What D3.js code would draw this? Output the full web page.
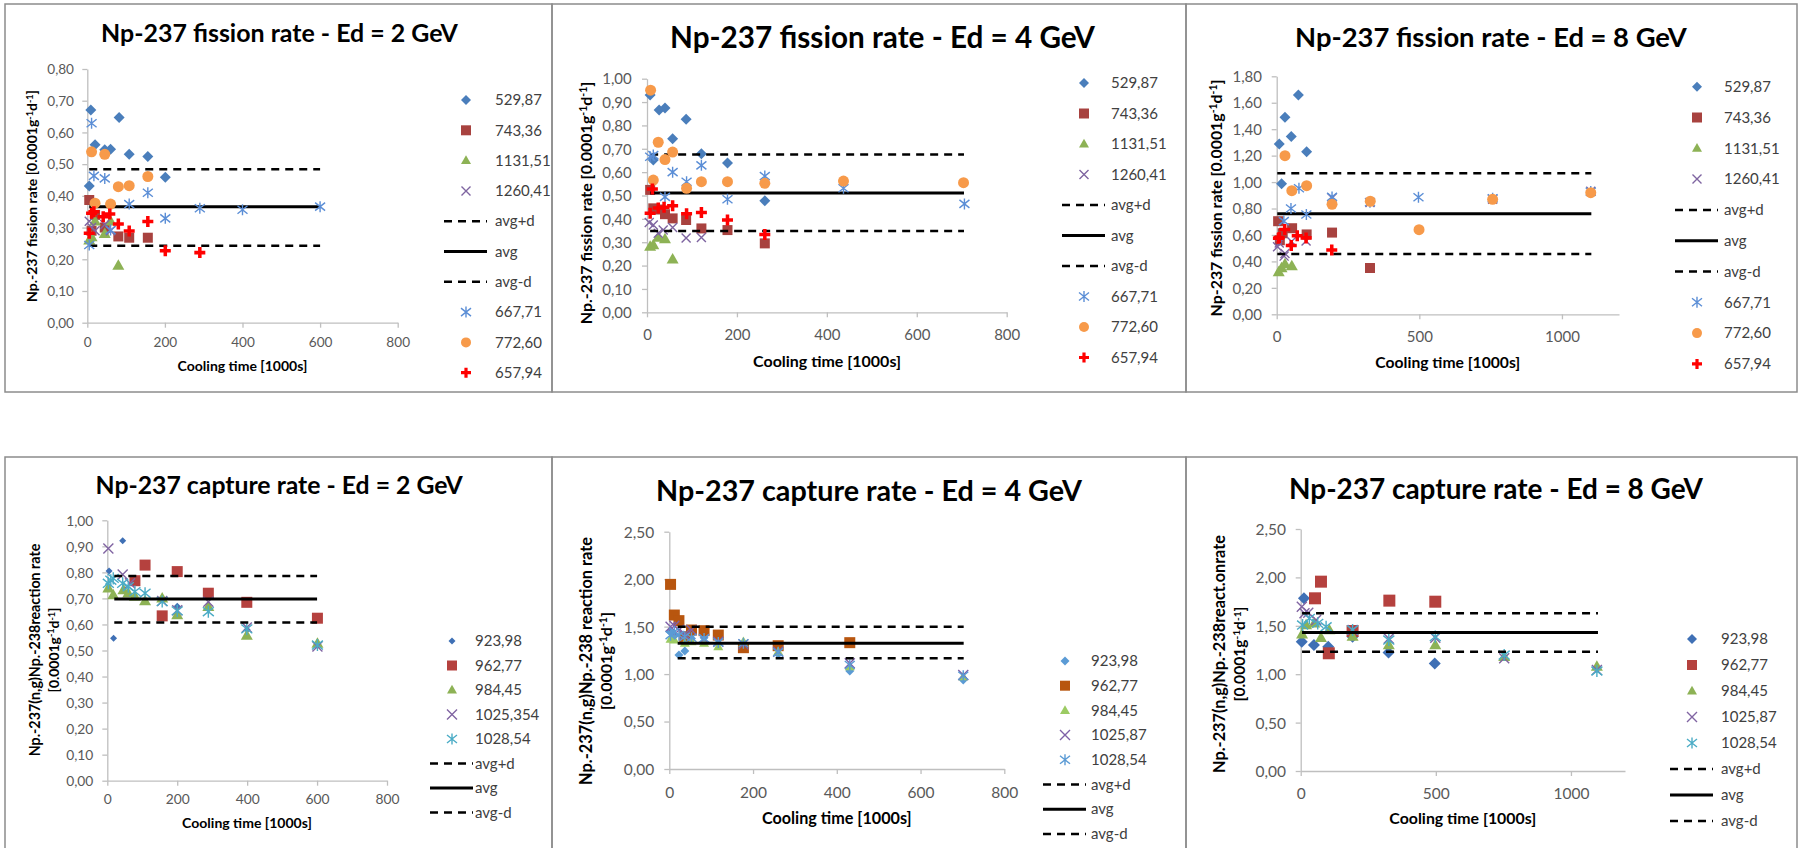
<!DOCTYPE html>
<html><head><meta charset="utf-8">
<script src="https://cdn.jsdelivr.net/npm/d3@7"></script>
<style>
body{margin:0;background:#fff;}
svg{display:block;}
text{font-family:Lato,"Open Sans",sans-serif;}
</style>
</head><body>
<svg id="c" width="1805" height="848"></svg>
<script>
// ================= DATA =================
// tick values
const ticksX800 = [0, 200, 400, 600, 800];
const ticksX1200 = [0, 500, 1000];
const ticksYf2 = [0, 0.1, 0.2, 0.3, 0.4, 0.5, 0.6, 0.7, 0.8];
const ticksYf4 = [0, 0.1, 0.2, 0.3, 0.4, 0.5, 0.6, 0.7, 0.8, 0.9, 1.0];
const ticksYf8 = [0, 0.2, 0.4, 0.6, 0.8, 1.0, 1.2, 1.4, 1.6, 1.8];
const ticksYc2 = [0, 0.1, 0.2, 0.3, 0.4, 0.5, 0.6, 0.7, 0.8, 0.9, 1.0];
const ticksYc48 = [0, 0.5, 1.0, 1.5, 2.0, 2.5];

// ---- Np-237 fission rate, Ed = 2 GeV  [cooling time (1000s), rate] ----
const f2_529_87 = [[5,0.431],[9,0.671],[20,0.561],[45,0.545],[60,0.547],[82,0.647],[108,0.531],[156,0.524],[201,0.459]];
const f2_743_36 = [[5,0.387],[11,0.29],[20,0.34],[45,0.30],[80,0.272],[108,0.268],[156,0.268]];
const f2_1131_51 = [[5,0.26],[11,0.27],[20,0.32],[45,0.28],[60,0.32],[80,0.18]];
const f2_1260_41 = [[5,0.32],[11,0.30],[20,0.29],[45,0.31],[60,0.29]];
const f2_667_71 = [[5,0.245],[11,0.629],[17,0.463],[45,0.455],[60,0.292],[108,0.374],[156,0.41],[201,0.329],[290,0.361],[400,0.356],[600,0.366]];
const f2_772_60 = [[11,0.539],[20,0.377],[45,0.531],[60,0.374],[80,0.429],[108,0.432],[156,0.461]];
const f2_657_94 = [[5,0.282],[11,0.345],[17,0.35],[41,0.334],[58,0.343],[80,0.311],[108,0.289],[156,0.319],[201,0.227],[290,0.221]];
const f2_avgX = [5, 600];
const f2_avg = {plus: 0.484, avg: 0.366, minus: 0.243};

// ---- Np-237 fission rate, Ed = 4 GeV ----
const f4_529_87 = [[7,0.93],[14,0.652],[27,0.866],[40,0.875],[57,0.743],[87,0.826],[121,0.679],[179,0.639],[262,0.477]];
const f4_743_36 = [[7,0.524],[14,0.445],[27,0.44],[40,0.42],[57,0.402],[87,0.395],[121,0.359],[179,0.352],[262,0.295]];
const f4_1131_51 = [[7,0.281],[14,0.288],[25,0.32],[40,0.314],[57,0.227]];
const f4_1260_41 = [[5,0.384],[14,0.374],[25,0.338],[36,0.352],[57,0.363],[87,0.318],[121,0.32]];
const f4_667_71 = [[7,0.666],[14,0.673],[40,0.494],[57,0.600],[88,0.559],[121,0.629],[179,0.484],[262,0.583],[437,0.531],[706,0.464]];
const f4_772_60 = [[8,0.951],[14,0.566],[25,0.728],[40,0.654],[57,0.686],[88,0.531],[121,0.559],[179,0.559],[262,0.552],[437,0.562],[704,0.555]];
const f4_657_94 = [[7,0.424],[12,0.528],[25,0.446],[38,0.45],[57,0.456],[88,0.422],[121,0.427],[179,0.395],[262,0.333]];
const f4_avgX = [7, 705];
const f4_avg = {plus: 0.676, avg: 0.511, minus: 0.348};

// ---- Np-237 fission rate, Ed = 8 GeV ----
const f8_529_87 = [[9,1.288],[17,0.988],[29,1.49],[51,1.344],[76,1.659],[105,1.23]];
const f8_743_36 = [[5,0.704],[11,0.56],[21,0.613],[54,0.651],[105,0.604],[194,0.618],[327,0.35]];
const f8_1131_51 = [[7,0.32],[17,0.35],[29,0.38],[53,0.365]];
const f8_1260_41 = [[3,0.51],[9,0.54],[26,0.44],[29,0.46],[52,0.55],[103,0.555],[194,0.88],[327,0.845],[757,0.87],[1101,0.93]];
const f8_667_71 = [[25,0.705],[50,0.8],[78,0.953],[104,0.755],[194,0.888],[327,0.848],[497,0.885],[757,0.877],[1101,0.928]];
const f8_772_60 = [[29,1.2],[53,0.935],[105,0.973],[194,0.832],[328,0.855],[499,0.64],[757,0.87],[1101,0.92]];
const f8_657_94 = [[6,0.576],[9,0.58],[28,0.641],[51,0.52],[72,0.594],[103,0.578],[193,0.487]];
const f8_avgX = [2, 1103];
const f8_avg = {plus: 1.066, avg: 0.761, minus: 0.456};

// ---- Np-237 capture rate, Ed = 2 GeV ----
const c2_923_98 = [[5,0.805],[18,0.547],[44,0.921],[200,0.67],[290,0.66],[400,0.58],[600,0.52]];
const c2_962_77 = [[79,0.768],[108,0.828],[157,0.633],[200,0.803],[289,0.72],[399,0.685],[601,0.624]];
const c2_984_45 = [[3,0.739],[17,0.713],[46,0.732],[60,0.72],[79,0.707],[108,0.69],[157,0.70],[200,0.636],[289,0.668],[399,0.557],[601,0.527]];
const c2_1025_354 = [[3,0.892],[44,0.792],[65,0.758],[157,0.69],[200,0.655],[289,0.687],[399,0.588],[601,0.515]];
const c2_1028_54 = [[3,0.758],[10,0.77],[17,0.777],[44,0.758],[60,0.745],[79,0.726],[108,0.72],[157,0.688],[200,0.652],[289,0.649],[399,0.583],[601,0.521]];
const c2_avgX = [20, 600];
const c2_avg = {plus: 0.786, avg: 0.698, minus: 0.608};

// ---- Np-237 capture rate, Ed = 4 GeV ----
const c4_923_98 = [[2,1.447],[12,1.41],[23,1.2],[37,1.243],[53,1.376],[83,1.383],[117,1.324],[177,1.331],[260,1.208],[431,1.032],[702,0.938]];
const c4_962_77 = [[3,1.945],[12,1.622],[23,1.563],[37,1.394],[53,1.464],[83,1.457],[117,1.411],[177,1.278],[260,1.299],[431,1.331]];
const c4_984_45 = [[3,1.366],[12,1.359],[37,1.324],[53,1.341],[83,1.324],[117,1.289],[177,1.341],[260,1.236],[431,1.078],[702,0.973]];
const c4_1025_87 = [[3,1.499],[12,1.51],[23,1.464],[37,1.42],[53,1.464],[83,1.369],[117,1.341],[177,1.313],[260,1.236],[431,1.113],[702,0.99]];
const c4_1028_54 = [[3,1.41],[12,1.447],[23,1.41],[37,1.394],[53,1.383],[83,1.376],[117,1.334],[177,1.324],[260,1.229],[431,1.096],[702,0.983]];
const c4_avgX = [20, 703];
const c4_avg = {plus: 1.499, avg: 1.324, minus: 1.166};

// ---- Np-237 capture rate, Ed = 8 GeV ----
const c8_923_98 = [[4,1.336],[12,1.784],[49,1.302],[102,1.284],[192,1.388],[325,1.225],[496,1.11]];
const c8_962_77 = [[53,1.784],[75,1.956],[104,1.216],[192,1.446],[328,1.76],[498,1.749]];
const c8_984_45 = [[5,1.412],[20,1.508],[50,1.525],[75,1.377],[106,1.456],[192,1.388],[326,1.302],[498,1.302],[753,1.181],[1096,1.078]];
const c8_1025_87 = [[4,1.697],[14,1.629],[28,1.635],[57,1.56],[192,1.457],[326,1.37],[498,1.377],[753,1.164],[1096,1.043]];
const c8_1028_54 = [[7,1.508],[32,1.577],[63,1.525],[94,1.49],[192,1.457],[326,1.353],[498,1.388],[753,1.198],[1096,1.033]];
const c8_avgX = [5, 1100];
const c8_avg = {plus: 1.629, avg: 1.432, minus: 1.233};

// ================= STYLES =================
const stF = {
  d: {shape:"diamond", color:"#4A7EBB", r:5.5},
  s: {shape:"square", color:"#A8423F", r:5},
  t: {shape:"triangle", color:"#8DB255", r:6},
  x: {shape:"x", color:"#7E64A0", r:4.5},
  a: {shape:"asterisk", color:"#5B8ED6", r:5},
  c: {shape:"circle", color:"#F79A4A", r:5.5},
  p: {shape:"plus", color:"#FF0000", r:5.5}
};
const stC = {
  d: {shape:"diamond", color:"#3F70B5", r:3.5},
  s: {shape:"square", color:"#B5413E", r:5.5},
  t: {shape:"triangle", color:"#8DB255", r:6},
  x: {shape:"x", color:"#8064A2", r:5},
  a: {shape:"asterisk", color:"#4BACC6", r:5.5}
};
const stC4 = {
  d: {shape:"diamond", color:"#5B9BD5", r:4.5},
  s: {shape:"square", color:"#B8560F", r:5.5},
  t: {shape:"triangle", color:"#9CCB63", r:5},
  x: {shape:"x", color:"#7E60A8", r:5},
  a: {shape:"asterisk", color:"#5B9BD5", r:5}
};
const stC8 = Object.assign({}, stC, {d: {shape:"diamond", color:"#3F70B5", r:6}, s:{shape:"square", color:"#B5413E", r:6}});

function supParts(main){ return [{t:main},{t:"-1",sup:true},{t:"d"},{t:"-1",sup:true},{t:"]"}]; }

function fisSeries(pre, avgX, avg){
  return [
    {name:"529,87", data:pre[0], st:stF.d},
    {name:"743,36", data:pre[1], st:stF.s},
    {name:"1131,51", data:pre[2], st:stF.t},
    {name:"1260,41", data:pre[3], st:stF.x},
    {name:"avg+d", line:"dash", data:avgX.map(x=>[x,avg.plus])},
    {name:"avg", line:"solid", data:avgX.map(x=>[x,avg.avg])},
    {name:"avg-d", line:"dash", data:avgX.map(x=>[x,avg.minus])},
    {name:"667,71", data:pre[4], st:stF.a},
    {name:"772,60", data:pre[5], st:stF.c},
    {name:"657,94", data:pre[6], st:stF.p}
  ];
}
function capSeries(pre, names, st, avgX, avg){
  return [
    {name:names[0], data:pre[0], st:st.d},
    {name:names[1], data:pre[1], st:st.s},
    {name:names[2], data:pre[2], st:st.t},
    {name:names[3], data:pre[3], st:st.x},
    {name:names[4], data:pre[4], st:st.a},
    {name:"avg+d", line:"dash", data:avgX.map(x=>[x,avg.plus])},
    {name:"avg", line:"solid", data:avgX.map(x=>[x,avg.avg])},
    {name:"avg-d", line:"dash", data:avgX.map(x=>[x,avg.minus])}
  ];
}

const panels = [
  {box:[5,4,552,392], title:"Np-237 fission rate - Ed = 2 GeV", titleX:101, titleW:357, titleY:42,
   px0:87.3, px1:397.7, py0:322.7, py1:69, xDom:[0,800], yDom:[0,0.8], xTicks:ticksX800, yTicks:ticksYf2,
   tickFs:13.6, yTickRight:74, xTickBase:346.7,
   ylab:[{bx:37, cy:196, w:212, parts:supParts("Np.-237 fission rate [0.0001g")}],
   xlabC:242.5, xlabY:370.7, xlabW:130,
   legend:{mx:466, lx:495, y0:100, dy:30.3},
   series:fisSeries([f2_529_87,f2_743_36,f2_1131_51,f2_1260_41,f2_667_71,f2_772_60,f2_657_94], f2_avgX, f2_avg)},
  {box:[552,4,1186,392], title:"Np-237 fission rate - Ed = 4 GeV", titleX:670, titleW:425, titleY:47.7,
   px0:647, px1:1006.7, py0:312.3, py1:78.7, xDom:[0,800], yDom:[0,1.0], xTicks:ticksX800, yTicks:ticksYf4,
   tickFs:15, yTickRight:631.7, xTickBase:340,
   ylab:[{bx:592, cy:203, w:243, parts:supParts("Np.-237 fission rate [0.0001g")}],
   xlabC:827, xlabY:366.7, xlabW:148,
   legend:{mx:1084, lx:1111, y0:83, dy:30.5},
   series:fisSeries([f4_529_87,f4_743_36,f4_1131_51,f4_1260_41,f4_667_71,f4_772_60,f4_657_94], f4_avgX, f4_avg)},
  {box:[1186,4,1797,392], title:"Np-237 fission rate - Ed = 8 GeV", titleX:1295, titleW:392, titleY:46.7,
   px0:1276.7, px1:1619, py0:314.3, py1:76.3, xDom:[0,1200], yDom:[0,1.8], xTicks:ticksX1200, yTicks:ticksYf8,
   tickFs:15, yTickRight:1262, xTickBase:341.7,
   ylab:[{bx:1222, cy:198, w:237, parts:supParts("Np-237 fission  rate [0.0001g")}],
   xlabC:1447.8, xlabY:368, xlabW:145,
   legend:{mx:1697, lx:1724, y0:86.7, dy:30.8},
   series:fisSeries([f8_529_87,f8_743_36,f8_1131_51,f8_1260_41,f8_667_71,f8_772_60,f8_657_94], f8_avgX, f8_avg)},
  {box:[5,457,552,860], title:"Np-237 capture rate - Ed = 2 GeV", titleX:95.5, titleW:367.5, titleY:494,
   px0:107.3, px1:387, py0:780.7, py1:520.3, xDom:[0,800], yDom:[0,1.0], xTicks:ticksX800, yTicks:ticksYc2,
   tickFs:13.8, yTickRight:93.3, xTickBase:804,
   ylab:[{bx:40, cy:650, w:213, parts:[{t:"Np.-237(n,g)Np.-238reaction rate"}]},
         {bx:58.5, cy:650, w:85, parts:[{t:"[0.0001g"},{t:"-1",sup:true},{t:"d"},{t:"-1",sup:true},{t:"]"}]}],
   xlabC:247, xlabY:828, xlabW:130,
   legend:{mx:452, lx:475, y0:641, dy:24.5},
   series:capSeries([c2_923_98,c2_962_77,c2_984_45,c2_1025_354,c2_1028_54], ["923,98","962,77","984,45","1025,354","1028,54"], stC, c2_avgX, c2_avg)},
  {box:[552,457,1186,860], title:"Np-237 capture rate - Ed = 4 GeV", titleX:656, titleW:426, titleY:500.7,
   px0:669.3, px1:1004.3, py0:769, py1:531.7, xDom:[0,800], yDom:[0,2.5], xTicks:ticksX800, yTicks:ticksYc48,
   tickFs:15.5, yTickRight:654.3, xTickBase:797.7,
   ylab:[{bx:592, cy:661, w:248, parts:[{t:"Np.-237(n,g)Np.-238 reaction rate"}]},
         {bx:612, cy:661, w:98, parts:[{t:"[0.0001g"},{t:"-1",sup:true},{t:"d"},{t:"-1",sup:true},{t:"]"}]}],
   xlabC:836.8, xlabY:824, xlabW:150,
   legend:{mx:1065, lx:1091, y0:661, dy:24.7},
   series:capSeries([c4_923_98,c4_962_77,c4_984_45,c4_1025_87,c4_1028_54], ["923,98","962,77","984,45","1025,87","1028,54"], stC4, c4_avgX, c4_avg)},
  {box:[1186,457,1797,860], title:"Np-237 capture rate - Ed = 8 GeV", titleX:1289, titleW:414, titleY:499,
   px0:1300.7, px1:1625, py0:771, py1:529, xDom:[0,1200], yDom:[0,2.5], xTicks:ticksX1200, yTicks:ticksYc48,
   tickFs:15.5, yTickRight:1286, xTickBase:799,
   ylab:[{bx:1225, cy:654, w:238, parts:[{t:"Np.-237(n,g)Np.-238react.onrate"}]},
         {bx:1245, cy:654, w:95, parts:[{t:"[0.0001g"},{t:"-1",sup:true},{t:"d"},{t:"-1",sup:true},{t:"]"}]}],
   xlabC:1462.8, xlabY:824.3, xlabW:147,
   legend:{mx:1692, lx:1721, y0:639, dy:26},
   series:capSeries([c8_923_98,c8_962_77,c8_984_45,c8_1025_87,c8_1028_54], ["923,98","962,77","984,45","1025,87","1028,54"], stC8, c8_avgX, c8_avg)}
];

// ================= DRAWING =================
const svg = d3.select("#c");
const FONT = 'Lato, "Open Sans", sans-serif';

function shapePath(shape, r){
  const p = d3.path();
  if (shape === "diamond") { p.moveTo(0,-r); p.lineTo(r,0); p.lineTo(0,r); p.lineTo(-r,0); p.closePath(); }
  else if (shape === "square") { p.rect(-r,-r,2*r,2*r); }
  else if (shape === "triangle") { p.moveTo(0,-r*1.05); p.lineTo(r,r*0.7); p.lineTo(-r,r*0.7); p.closePath(); }
  else if (shape === "circle") { p.moveTo(r,0); p.arc(0,0,r,0,2*Math.PI); }
  else if (shape === "plus") {
    const a = r*0.32;
    p.moveTo(-a,-r); p.lineTo(a,-r); p.lineTo(a,-a); p.lineTo(r,-a); p.lineTo(r,a); p.lineTo(a,a);
    p.lineTo(a,r); p.lineTo(-a,r); p.lineTo(-a,a); p.lineTo(-r,a); p.lineTo(-r,-a); p.lineTo(-a,-a); p.closePath();
  }
  else if (shape === "x") { p.moveTo(-r,-r); p.lineTo(r,r); p.moveTo(r,-r); p.lineTo(-r,r); }
  else if (shape === "asterisk") { p.moveTo(-r,-r*0.8); p.lineTo(r,r*0.8); p.moveTo(r,-r*0.8); p.lineTo(-r,r*0.8); p.moveTo(0,-r*1.1); p.lineTo(0,r*1.1); }
  return p.toString();
}
const strokeShapes = {x:true, asterisk:true};
function styleMarker(sel, st){
  if (strokeShapes[st.shape]) sel.attr("fill","none").attr("stroke",st.color).attr("stroke-width",1.4);
  else sel.attr("fill",st.color).attr("stroke","none");
}
function fitText(sel, target){
  const w = sel.node().getComputedTextLength();
  const fs = parseFloat(sel.attr("font-size"));
  if (w > 0) sel.attr("font-size", fs*target/w);
}
function addParts(text, parts){
  parts.forEach((pt, i) => {
    const ts = text.append("tspan").text(pt.t);
    if (pt.sup) ts.attr("font-size","65%").attr("dy","-0.45em");
    else if (i > 0 && parts[i-1].sup) ts.attr("dy","0.3em");
  });
}

panels.forEach(cfg => {
  const g = svg.append("g");
  g.append("rect").attr("x",cfg.box[0]).attr("y",cfg.box[1])
    .attr("width",cfg.box[2]-cfg.box[0]).attr("height",cfg.box[3]-cfg.box[1])
    .attr("fill","none").attr("stroke","#8c8c8c").attr("stroke-width",1.5);

  const x = d3.scaleLinear().domain(cfg.xDom).range([cfg.px0, cfg.px1]);
  const y = d3.scaleLinear().domain(cfg.yDom).range([cfg.py0, cfg.py1]);

  const gx = g.append("g").attr("transform",`translate(0,${cfg.py0})`)
    .call(d3.axisBottom(x).tickValues(cfg.xTicks).tickSize(5).tickSizeOuter(0).tickFormat(d3.format("d")));
  const gy = g.append("g").attr("transform",`translate(${cfg.px0},0)`)
    .call(d3.axisLeft(y).tickValues(cfg.yTicks).tickSize(5).tickSizeOuter(0).tickFormat(d => d3.format(".2f")(d).replace(".", ",")));
  [gx, gy].forEach(a => {
    a.select(".domain").attr("stroke","#BFBFBF").attr("stroke-width",1.3);
    a.selectAll(".tick line").attr("stroke","#BFBFBF").attr("stroke-width",1.3);
    a.selectAll(".tick text").attr("fill","#595959").attr("font-size",cfg.tickFs).attr("font-family",FONT);
  });
  gx.selectAll(".tick text").attr("y", cfg.xTickBase - cfg.py0).attr("dy", null);
  gy.selectAll(".tick text").attr("x", cfg.yTickRight - cfg.px0).attr("dy","0.35em");

  // title
  const t = g.append("text").attr("x",cfg.titleX).attr("y",cfg.titleY)
    .attr("font-size",22).attr("font-weight","bold").attr("fill","#000").text(cfg.title);
  fitText(t, cfg.titleW);

  // x label
  const xl = g.append("text").attr("x",cfg.xlabC).attr("y",cfg.xlabY).attr("text-anchor","middle")
    .attr("font-size",13).attr("font-weight","bold").attr("fill","#000").text("Cooling time [1000s]");
  fitText(xl, cfg.xlabW);

  // y label
  cfg.ylab.forEach(l => {
    const yl = g.append("text").attr("x",l.bx).attr("y",l.cy).attr("text-anchor","middle")
      .attr("transform",`rotate(-90,${l.bx},${l.cy})`)
      .attr("font-size",13).attr("font-weight","bold").attr("fill","#000");
    addParts(yl, l.parts);
    fitText(yl, l.w);
  });

  // series
  const line = d3.line().x(d => x(d[0])).y(d => y(d[1]));
  cfg.series.forEach(s => {
    if (s.line) {
      g.append("path").datum(s.data).attr("d",line).attr("fill","none").attr("stroke","#000")
        .attr("stroke-width", s.line === "solid" ? 3 : 2.5)
        .attr("stroke-dasharray", s.line === "dash" ? "8,6" : null);
    } else {
      const m = g.append("g").selectAll("path").data(s.data).join("path")
        .attr("transform", d => `translate(${x(d[0])},${y(d[1])})`)
        .attr("d", shapePath(s.st.shape, s.st.r));
      styleMarker(m, s.st);
    }
  });

  // legend
  const L = cfg.legend;
  cfg.series.forEach((s, i) => {
    const ry = L.y0 + i*L.dy;
    if (s.line) {
      g.append("line").attr("x1",L.mx-22).attr("x2",L.mx+21).attr("y1",ry).attr("y2",ry)
        .attr("stroke","#000").attr("stroke-width", s.line === "solid" ? 3 : 2.5)
        .attr("stroke-dasharray", s.line === "dash" ? "8,6" : null);
    } else {
      const m = g.append("path").attr("transform",`translate(${L.mx},${ry})`)
        .attr("d", shapePath(s.st.shape, Math.min(s.st.r, 5)));
      styleMarker(m, s.st);
    }
    g.append("text").attr("x",L.lx).attr("y",ry).attr("dy","0.35em")
      .attr("font-size",15).attr("fill","#404040").text(s.name);
  });
});
</script>
</body></html>
